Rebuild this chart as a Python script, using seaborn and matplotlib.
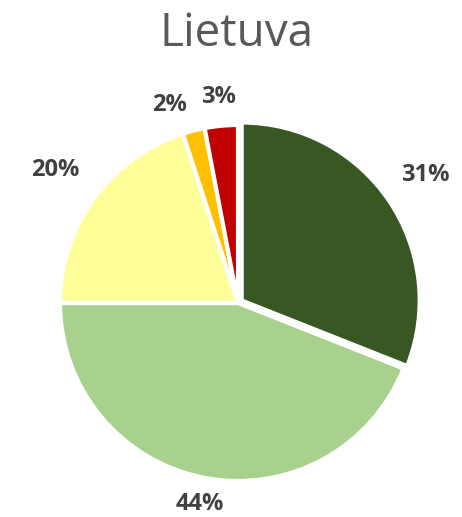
import matplotlib
matplotlib.use("Agg")
import matplotlib.pyplot as plt
import seaborn as sns
import numpy as np

# shares, clockwise from 12 o'clock
shares = [31, 44, 20, 2, 3]
colors = ["#385723", "#A9D18E", "#FFFF99", "#FFC000", "#C00000"]
explode = [0.025, 0, 0, 0, 0]
# how far out each label sits (in pie radii) and how it is anchored
label_dist = [1.25, 1.15, 1.27, 1.15, 1.16]
label_ha = ["center", "center", "center", "right", "center"]
title = "Lietuva"

sns.set_theme(style="white")
plt.rcParams['font.family'] = ['Open Sans', 'DejaVu Sans']

fig = plt.figure(figsize=(4.62, 5.17), dpi=100)
ax = fig.add_axes([0, 0, 1, 1])

wedges, texts = ax.pie(shares, colors=colors, explode=explode,
                       startangle=90, counterclock=False,
                       wedgeprops=dict(edgecolor="white", linewidth=3))

# percentage labels placed outside the pie
for w, v, d, ha in zip(wedges, shares, label_dist, label_ha):
    ang = np.deg2rad((w.theta1 + w.theta2) / 2)
    cx, cy = w.center
    ax.text(cx + d * np.cos(ang), cy + d * np.sin(ang), "{0}%".format(v),
            ha=ha, va="center", fontsize=17, fontweight="bold",
            color="#404040")

# 178 px per unit radius, center at (238, 303) px from top-left
r = 178
ax.set_xlim(-238 / r, (462 - 238) / r)
ax.set_ylim(-(517 - 303) / r, 303 / r)
ax.axis("off")

fig.text(0.513, 1 - 34 / 517, title, ha="center", va="center",
         fontsize=33, color="#595959")

fig.savefig("out.png", dpi=100)
